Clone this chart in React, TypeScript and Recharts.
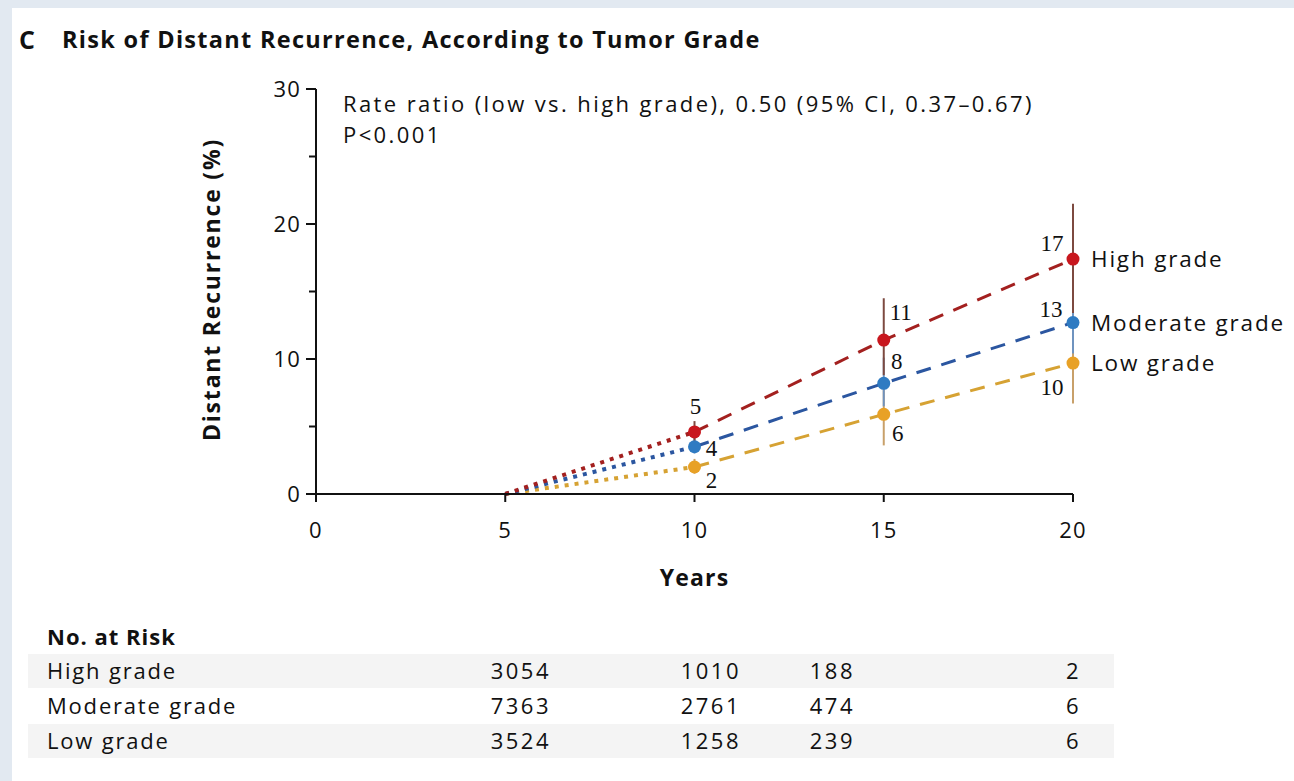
import React from 'react';
import { LineChart, Line, XAxis, YAxis, ErrorBar, LabelList } from 'recharts';

// ---- data ----
const years = [5, 10, 15, 20];
const highValues = [0, 4.6, 11.4, 17.4];
const moderateValues = [0, 3.5, 8.2, 12.7];
const lowValues = [0, 2.0, 5.9, 9.7];
const highLower = [0, 3.9, 8.8, 13.4];
const highUpper = [0, 5.4, 14.5, 21.5];
const moderateLower = [0, 3.0, 6.5, 10.4];
const moderateUpper = [0, 4.2, 10.1, 15.0];
const lowLower = [0, 1.5, 3.6, 6.7];
const lowUpper = [0, 2.6, 8.4, 12.6];
const highLabels = ['', '5', '11', '17'];
const moderateLabels = ['', '4', '8', '13'];
const lowLabels = ['', '2', '6', '10'];
const seriesNames = ['High grade', 'Moderate grade', 'Low grade'];
const xTicks = [0, 5, 10, 15, 20];
const yTicks = [0, 5, 10, 15, 20, 25, 30];
const riskRowNames = ['High grade', 'Moderate grade', 'Low grade'];
const riskHigh = [3054, 1010, 188, 2];
const riskModerate = [7363, 2761, 474, 6];
const riskLow = [3524, 1258, 239, 6];

// ---- styles ----
const FONT = "'Open Sans', sans-serif";
const SERIF = "'Liberation Serif', serif";
const C = {
  highLine: '#a3201f', highDot: '#c8171e', highErr: '#7d4a40',
  modLine: '#2b56a0', modDot: '#2f7bc2', modErr: '#6f93bf',
  lowLine: '#d6a233', lowDot: '#e8a126', lowErr: '#c8a06a',
};
const LABEL_OFFSETS: Record<string, number[][]> = {
  h: [[0, 0], [1, -26], [17, -28], [-21, -16]],
  m: [[0, 0], [17, 1], [13, -23], [-22, -14]],
  l: [[0, 0], [17, 13], [14, 18], [-21, 24]],
};
const RISK_COL_RIGHT = [551, 741, 855, 1081];
const RISK_ROW_Y = [670, 705, 740];

// ---- build chart data ----
const data = years.map((x, i) => ({
  x,
  hDot: i <= 1 ? highValues[i] : undefined,
  mDot: i <= 1 ? moderateValues[i] : undefined,
  lDot: i <= 1 ? lowValues[i] : undefined,
  h: i >= 1 ? highValues[i] : undefined,
  m: i >= 1 ? moderateValues[i] : undefined,
  l: i >= 1 ? lowValues[i] : undefined,
  hErr: i >= 1 ? [highValues[i] - highLower[i], highUpper[i] - highValues[i]] : undefined,
  mErr: i >= 1 ? [moderateValues[i] - moderateLower[i], moderateUpper[i] - moderateValues[i]] : undefined,
  lErr: i >= 1 ? [lowValues[i] - lowLower[i], lowUpper[i] - lowValues[i]] : undefined,
  hLab: highLabels[i],
  mLab: moderateLabels[i],
  lLab: lowLabels[i],
  hName: i === years.length - 1 ? seriesNames[0] : '',
  mName: i === years.length - 1 ? seriesNames[1] : '',
  lName: i === years.length - 1 ? seriesNames[2] : '',
}));

const YTick = (props: any) => {
  const { x, y, payload } = props;
  const major = payload.value % 10 === 0;
  return (
    <g>
      <line x1={x} x2={x - (major ? 10 : 7)} y1={y} y2={y} stroke="#111" strokeWidth={2} />
      {major && (
        <text x={x - 15} y={y} dy="0.36em" textAnchor="end" fontFamily={FONT} fontSize={22} letterSpacing={1.2} fill="#111">
          {payload.value}
        </text>
      )}
    </g>
  );
};

const XTick = (props: any) => {
  const { x, y, payload } = props;
  return (
    <g>
      <line x1={x} x2={x} y1={y} y2={y + 8} stroke="#111" strokeWidth={2} />
      <text x={x} y={y + 36} dy="0.36em" textAnchor="middle" fontFamily={FONT} fontSize={22} letterSpacing={1.2} fill="#111">
        {payload.value}
      </text>
    </g>
  );
};

const makeValueLabel = (key: string) => (p: any) => {
  const { x, y, value, index } = p;
  if (!value || x == null || y == null) return null;
  const off = LABEL_OFFSETS[key][index] || [0, 0];
  return (
    <text x={x + off[0]} y={y + off[1]} dy="0.36em" textAnchor="middle" fontFamily={SERIF} fontSize={23} fill="#111">
      {value}
    </text>
  );
};

const nameLabel = (p: any) => {
  const { x, y, value } = p;
  if (!value || x == null || y == null) return null;
  return (
    <text x={x + 18} y={y} dy="0.36em" textAnchor="start" fontFamily={FONT} fontSize={22.5} letterSpacing={1.8} fill="#111">
      {value}
    </text>
  );
};

const T = ({ x, y, size = 21, weight = 400, anchor = 'start', spacing = 1, children, family = FONT }: any) => {
  const tx = anchor === 'end' ? 'translateX(-100%)' : anchor === 'middle' ? 'translateX(-50%)' : 'none';
  return (
    <div
      style={{
        position: 'absolute', left: x, top: y - size / 2, fontSize: size, lineHeight: `${size}px`,
        fontWeight: weight, fontFamily: family, whiteSpace: 'nowrap', transform: tx, color: '#111',
        letterSpacing: spacing,
      }}
    >
      {children}
    </div>
  );
};

const riskRows = [riskHigh, riskModerate, riskLow];

export default function App() {
  return (
    <div style={{ position: 'absolute', left: 0, top: 0, width: 1294, height: 781, background: '#fff', overflow: 'hidden' }}>
      <div style={{ position: 'absolute', left: 0, top: 0, width: 1294, height: 8, background: '#e2e9f1' }} />
      <div style={{ position: 'absolute', left: 0, top: 0, width: 12, height: 781, background: '#e2e9f1' }} />

      {/* title */}
      <T x={19} y={39} size={25} weight={700} spacing={0}>C</T>
      <T x={62} y={40} size={23.5} weight={700} spacing={1.3}>Risk of Distant Recurrence, According to Tumor Grade</T>

      {/* annotation */}
      <T x={343} y={103} size={22} spacing={2.4}>Rate ratio (low vs. high grade), 0.50 (95% CI, 0.37–0.67)</T>
      <T x={343} y={134} size={22} spacing={2.4}>P&lt;0.001</T>

      {/* no. at risk */}
      {[0, 1].map((k) => (
        <div key={k} style={{ position: 'absolute', left: 28, top: RISK_ROW_Y[k * 2] - 16, width: 1086, height: 34, background: '#f4f4f4' }} />
      ))}
      <T x={47} y={636} size={22} weight={700} spacing={1}>No. at Risk</T>
      {riskRowNames.map((n, r) => (
        <T key={n} x={47} y={RISK_ROW_Y[r]} size={22} spacing={1.8}>{n}</T>
      ))}
      {riskRows.map((row, r) =>
        row.map((v, c) => (
          <T key={`${r}-${c}`} x={RISK_COL_RIGHT[c]} y={RISK_ROW_Y[r]} size={22} anchor="end" spacing={2.5}>{v}</T>
        ))
      )}

      <div style={{ position: 'absolute', left: 0, top: 0 }}>
        <LineChart width={1294} height={620} data={data} margin={{ top: 89, right: 221, bottom: 26, left: 196 }}>
          <XAxis
            dataKey="x"
            type="number"
            domain={[0, 20]}
            ticks={xTicks}
            interval={0}
            height={100}
            tickSize={0}
            tickMargin={0}
            tickLine={false}
            axisLine={{ stroke: '#111', strokeWidth: 2 }}
            tick={<XTick />}
            label={{
              value: 'Years',
              content: (p: any) => {
                const vb = p.viewBox || { x: 316, y: 494, width: 757, height: 100 };
                return (
                  <text x={vb.x + vb.width / 2} y={vb.y + 84} dy="0.36em" textAnchor="middle" fontFamily={FONT} fontWeight={700} fontSize={23} letterSpacing={1.2} fill="#111">
                    Years
                  </text>
                );
              },
            }}
          />
          <YAxis
            type="number"
            domain={[0, 30]}
            ticks={yTicks}
            interval={0}
            width={120}
            tickSize={0}
            tickMargin={0}
            tickLine={false}
            axisLine={{ stroke: '#111', strokeWidth: 2 }}
            tick={<YTick />}
            label={{
              value: 'Distant Recurrence (%)',
              content: (p: any) => {
                const vb = p.viewBox || { x: 196, y: 89, width: 120, height: 405 };
                const cx = vb.x + 16;
                const cy = vb.y + vb.height / 2 - 2;
                return (
                  <text x={cx} y={cy} dy="0.36em" transform={`rotate(-90 ${cx} ${cy})`} textAnchor="middle" fontFamily={FONT} fontWeight={700} fontSize={23} letterSpacing={1.8} fill="#111">
                    Distant Recurrence (%)
                  </text>
                );
              },
            }}
          />

          {/* dotted projection segments 5 -> 10 */}
          <Line dataKey="lDot" stroke={C.lowLine} strokeWidth={4} strokeDasharray="4 6" dot={false} isAnimationActive={false} />
          <Line dataKey="mDot" stroke={C.modLine} strokeWidth={4} strokeDasharray="4 6" dot={false} isAnimationActive={false} />
          <Line dataKey="hDot" stroke={C.highLine} strokeWidth={4} strokeDasharray="4 6" dot={false} isAnimationActive={false} />

          {/* dashed segments 10 -> 20 */}
          <Line
            dataKey="l"
            stroke={C.lowLine}
            strokeWidth={3}
            strokeDasharray="15 11"
            dot={{ r: 6.5, fill: C.lowDot, stroke: 'none', strokeDasharray: '0' }}
            isAnimationActive={false}
          >
            <ErrorBar dataKey="lErr" width={0} stroke={C.lowErr} strokeWidth={2} direction="y" />
            <LabelList dataKey="lLab" content={makeValueLabel('l')} />
            <LabelList dataKey="lName" content={nameLabel} />
          </Line>
          <Line
            dataKey="m"
            stroke={C.modLine}
            strokeWidth={3}
            strokeDasharray="15 11"
            dot={{ r: 6.5, fill: C.modDot, stroke: 'none', strokeDasharray: '0' }}
            isAnimationActive={false}
          >
            <ErrorBar dataKey="mErr" width={0} stroke={C.modErr} strokeWidth={2} direction="y" />
            <LabelList dataKey="mLab" content={makeValueLabel('m')} />
            <LabelList dataKey="mName" content={nameLabel} />
          </Line>
          <Line
            dataKey="h"
            stroke={C.highLine}
            strokeWidth={3}
            strokeDasharray="15 11"
            dot={{ r: 6.5, fill: C.highDot, stroke: 'none', strokeDasharray: '0' }}
            isAnimationActive={false}
          >
            <ErrorBar dataKey="hErr" width={0} stroke={C.highErr} strokeWidth={2} direction="y" />
            <LabelList dataKey="hLab" content={makeValueLabel('h')} />
            <LabelList dataKey="hName" content={nameLabel} />
          </Line>
        </LineChart>
      </div>
    </div>
  );
}
